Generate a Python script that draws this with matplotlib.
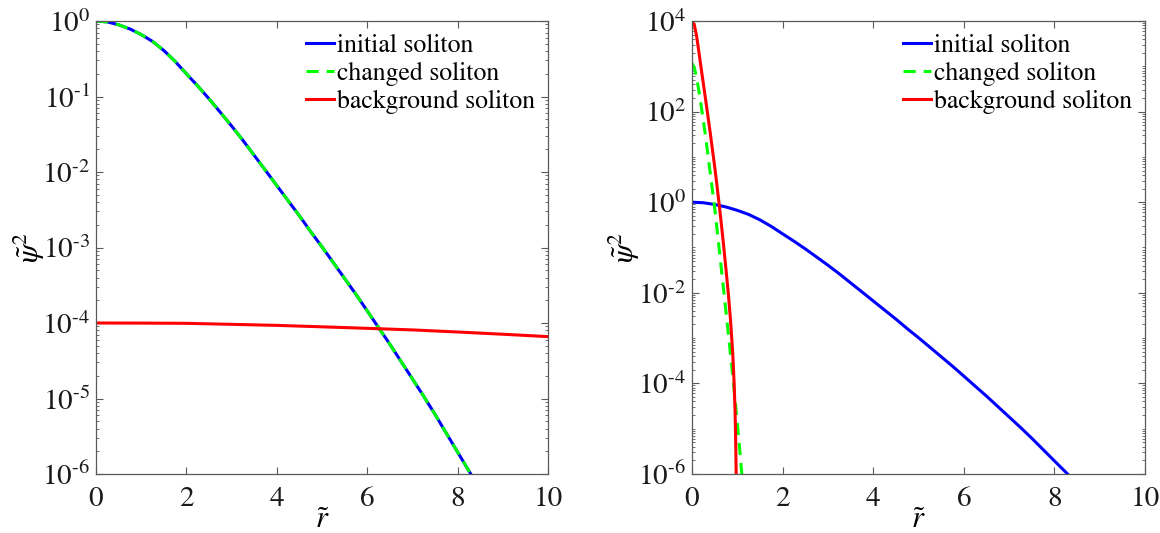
import math

import matplotlib

matplotlib.use("Agg")
import matplotlib.pyplot as plt
from matplotlib.ticker import FuncFormatter, LogLocator, NullFormatter

# initial soliton profile (same curve on both panels)
R_INITIAL = [0, 0.25, 0.5, 0.75, 1.0, 1.25, 1.5, 1.75, 2.0, 2.25, 2.5, 2.75,
             3.0, 3.25, 3.5, 3.75, 4.0, 4.25, 4.5, 4.75, 5.0, 5.25, 5.5, 5.75,
             6.0, 6.25, 6.5, 6.75, 7.0, 7.25, 7.5, 7.75, 8.0, 8.25, 8.5]
PSI2_INITIAL = [1.0, 0.973, 0.891, 0.785, 0.661, 0.537, 0.407, 0.292, 0.200,
                0.138, 0.0933, 0.0617, 0.0407, 0.0263, 0.0166, 0.0105,
                6.61e-3, 4.17e-3, 2.63e-3, 1.62e-3, 1.02e-3, 6.31e-4, 3.89e-4,
                2.40e-4, 1.45e-4, 8.71e-5, 5.25e-5, 3.09e-5, 1.82e-5, 1.07e-5,
                6.17e-6, 3.47e-6, 1.95e-6, 1.10e-6, 6.17e-7]

# left panel: changed soliton lies exactly on the initial one
PSI2_CHANGED_LEFT = list(PSI2_INITIAL)
R_BACKGROUND_LEFT = [0, 1, 2, 3, 4, 5, 6, 7, 8, 9, 10]
PSI2_BACKGROUND_LEFT = [1.0e-4, 0.997e-4, 0.99e-4, 0.96e-4, 0.93e-4, 0.89e-4,
                        0.85e-4, 0.81e-4, 0.76e-4, 0.71e-4, 0.66e-4]

# right panel: steep changed / background solitons
R_CHANGED_RIGHT = [0, 0.05, 0.1, 0.15, 0.2, 0.25, 0.3, 0.35, 0.4, 0.45, 0.5,
                   0.55, 0.6, 0.65, 0.7, 0.75, 0.8, 0.85, 0.9, 0.95, 1.0,
                   1.05, 1.1, 1.13]
PSI2_CHANGED_RIGHT = [1175, 933, 575, 295, 138, 63.1, 28.2, 11.5, 4.57, 1.86,
                      0.759, 0.269, 0.0933, 0.0324, 0.0112, 3.80e-3, 1.29e-3,
                      4.37e-4, 1.45e-4, 4.47e-5, 1.32e-5, 3.80e-6, 1.0e-6,
                      4.0e-7]
R_BACKGROUND_RIGHT = [0, 0.05, 0.1, 0.15, 0.2, 0.25, 0.3, 0.35, 0.4, 0.45,
                      0.5, 0.55, 0.6, 0.65, 0.7, 0.75, 0.8, 0.85, 0.9, 0.93,
                      0.95, 0.965, 0.975, 0.985]
PSI2_BACKGROUND_RIGHT = [1.0e4, 8.32e3, 4.79e3, 2.14e3, 933, 417, 186, 81.3,
                         35.5, 14.8, 6.17, 2.40, 0.891, 0.316, 0.105, 0.0331,
                         0.01, 2.51e-3, 4.47e-4, 1.0e-4, 2.51e-5, 5.01e-6,
                         1.0e-6, 1.0e-7]

LABELS = ["initial soliton", "changed soliton", "background soliton"]
X_TICKS = [0, 2, 4, 6, 8, 10]

# Times-like look (STIX ships with matplotlib)
plt.rcParams["font.family"] = ["STIXGeneral", "DejaVu Serif"]
plt.rcParams["mathtext.fontset"] = "stix"

AX_COLOR = "#5a5a5a"
LW = 2.2
DASH = (0, (4, 2.6))


def pow10_label(v, _pos):
    # MATLAB-style 10^{-n}, with a short hyphen instead of a long minus
    e = int(round(math.log10(v)))
    return f"$10^{{{e}}}$".replace("-", "\u2010")


def style_axes(ax, ymin, ymax, label_step, ylab_x):
    ax.set_yscale("log")
    ax.set_xlim(0, 10)
    ax.set_ylim(ymin, ymax)
    ax.set_xticks(X_TICKS)
    ax.yaxis.set_major_locator(LogLocator(base=10 ** label_step, numticks=20))
    ax.yaxis.set_major_formatter(FuncFormatter(pow10_label))
    ax.yaxis.set_minor_locator(LogLocator(base=10, subs=range(1, 10), numticks=50))
    ax.yaxis.set_minor_formatter(NullFormatter())
    ax.tick_params(which="both", direction="in", top=True, right=True,
                   color=AX_COLOR, labelsize=21, labelcolor="#1a1a1a")
    ax.tick_params(which="major", length=5)
    ax.tick_params(which="minor", length=2.5)
    ax.tick_params(axis="x", pad=9)
    ax.tick_params(axis="y", pad=4)
    for s in ax.spines.values():
        s.set_color(AX_COLOR)
        s.set_linewidth(0.9)
    ax.set_xlabel(r"$\tilde{r}$", fontsize=22)
    ax.set_ylabel(r"$\tilde{\psi}^2$", fontsize=22)
    ax.xaxis.set_label_coords(0.5, -0.073)
    ax.yaxis.set_label_coords(ylab_x, 0.5)
    ax.legend(loc="upper right", frameon=False, fontsize=18.5, handlelength=1.1,
              handletextpad=0.1, labelspacing=0.15, borderaxespad=0.12)


fig = plt.figure(figsize=(11.6, 5.33), dpi=100)
ax1 = fig.add_axes([96 / 1160, 59 / 533, 452 / 1160, 453 / 533])
ax2 = fig.add_axes([692 / 1160, 59 / 533, 453 / 1160, 453 / 533])

# left panel
ax1.plot(R_INITIAL, PSI2_INITIAL, color="blue", lw=LW, label=LABELS[0])
ax1.plot(R_INITIAL, PSI2_CHANGED_LEFT, color="#00ff00", lw=LW, ls=DASH, label=LABELS[1])
ax1.plot(R_BACKGROUND_LEFT, PSI2_BACKGROUND_LEFT, color="red", lw=LW, label=LABELS[2])
style_axes(ax1, 1e-6, 1, 1, -0.108)

# right panel
ax2.plot(R_INITIAL, PSI2_INITIAL, color="blue", lw=LW, label=LABELS[0])
ax2.plot(R_CHANGED_RIGHT, PSI2_CHANGED_RIGHT, color="#00ff00", lw=LW, ls=DASH, label=LABELS[1])
ax2.plot(R_BACKGROUND_RIGHT, PSI2_BACKGROUND_RIGHT, color="red", lw=LW, label=LABELS[2])
style_axes(ax2, 1e-6, 1e4, 2, -0.11)

fig.savefig("out.png", dpi=100)
